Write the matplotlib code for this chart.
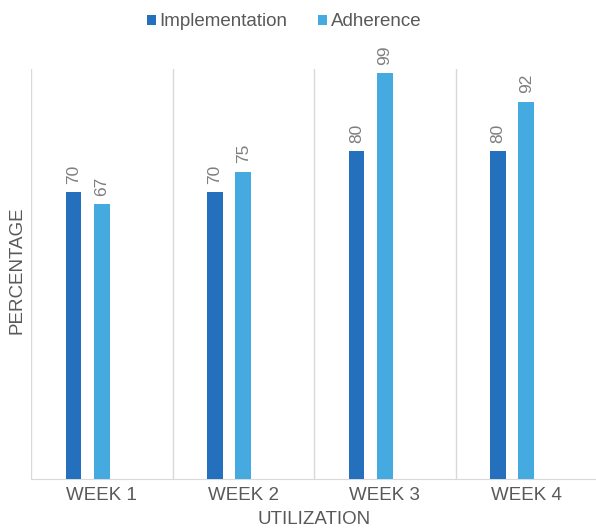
import matplotlib.pyplot as plt
import numpy as np

plt.rcParams['font.family'] = ['Liberation Sans', 'DejaVu Sans']

weeks = ['WEEK 1', 'WEEK 2', 'WEEK 3', 'WEEK 4']
implementation = [70, 70, 80, 80]
adherence = [67, 75, 99, 92]

grey = '#595959'
c_impl = '#2470BD'
c_adh = '#45AAE0'

fig = plt.figure(figsize=(5.96, 5.31), dpi=100)
ax = fig.add_axes([31 / 596, 52 / 531, 566 / 596, 410 / 531])

x = np.arange(len(weeks))
w = 0.11
b1 = ax.bar(x - 0.2, implementation, w, color=c_impl, label='Implementation', zorder=3)
b2 = ax.bar(x, adherence, w, color=c_adh, label='Adherence', zorder=3)

for bars, vals in [(b1, implementation), (b2, adherence)]:
    for r, v in zip(bars, vals):
        ax.annotate(str(v), (r.get_x() + r.get_width() / 2, r.get_height()),
                    xytext=(0, 6), textcoords='offset points', rotation=90,
                    ha='center', va='bottom', fontsize=12.5, color='#7f7f7f')

ax.set_xlim(-0.5, 3.5)
ax.set_ylim(0, 100)
ax.set_yticks([])
ax.set_xticks(x)
ax.set_xticklabels(weeks, fontsize=13.5, color=grey)
ax.tick_params(axis='x', length=0, pad=6)
for b in [-0.5, 0.5, 1.5, 2.5]:
    ax.axvline(b, color='#d9d9d9', lw=1, zorder=1)
for s in ['top', 'right', 'left']:
    ax.spines[s].set_visible(False)
ax.spines['bottom'].set_color('#d9d9d9')

ax.set_xlabel('UTILIZATION', fontsize=13.5, color=grey, labelpad=5)
ax.set_ylabel('PERCENTAGE', fontsize=13.5, color=grey)
ax.yaxis.set_label_coords(-0.01, 0.51)

fig.legend(loc='center', bbox_to_anchor=(284 / 596, 1 - 22 / 531), ncol=2,
           frameon=False, fontsize=13.5, handlelength=0.5, handleheight=0.5,
           handletextpad=0.2, columnspacing=1.6, labelcolor=grey)

plt.savefig('out.png', dpi=100)
